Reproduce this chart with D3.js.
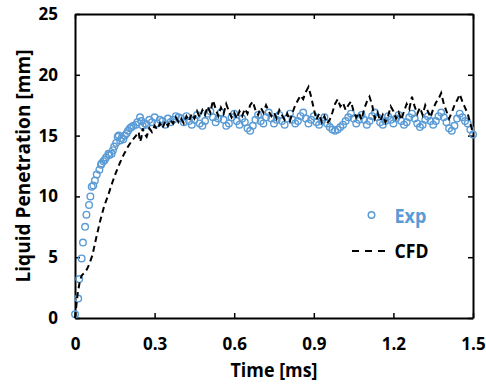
<!DOCTYPE html>
<html>
<head>
<meta charset="utf-8">
<script src="https://cdn.jsdelivr.net/npm/d3@7"></script>
<style>
    body { margin: 0; background: #fff; }
    svg text { font-family: "Open Sans", "DejaVu Sans", sans-serif; font-weight: bold; }
</style>
</head>
<body>
<div id="chart"></div>
<script>
// x ticks [ms] and y ticks [mm]
var xTicks = [0, 0.3, 0.6, 0.9, 1.2, 1.5];
var yTicks = [0, 5, 10, 15, 20, 25];

// Exp - measured liquid penetration (rise part, read point by point)
var expRiseTime = [0, 0.012, 0.016, 0.025, 0.030, 0.038, 0.043, 0.053, 0.058, 0.063, 0.069, 0.075,
                   0.082, 0.092, 0.098, 0.100, 0.107, 0.112, 0.117, 0.126, 0.130, 0.138, 0.143, 0.148,
                   0.155, 0.161, 0.165, 0.170, 0.176, 0.182, 0.188, 0.195, 0.200, 0.207, 0.213, 0.220,
                   0.230, 0.235, 0.245, 0.250, 0.255, 0.264, 0.270, 0.280, 0.290, 0.300, 0.310, 0.320,
                   0.330, 0.340, 0.350, 0.360, 0.370, 0.380, 0.390];
var expRiseLen = [0.3, 1.6, 3.2, 4.9, 6.2, 7.5, 8.5, 9.3, 10.0, 10.8, 10.9, 11.3,
                  11.8, 12.2, 12.6, 12.7, 12.9, 13.0, 13.2, 13.5, 13.4, 13.5, 13.8, 14.1,
                  14.4, 14.9, 15.0, 14.6, 14.8, 14.7, 15.0, 15.2, 15.4, 15.6, 15.7, 15.8,
                  15.9, 16.1, 16.5, 16.2, 15.8, 16.0, 15.9, 16.3, 16.1, 16.5, 16.0, 16.3,
                  16.2, 15.9, 16.4, 16.1, 16.3, 16.6, 16.5];

// Exp - plateau, one point every 0.01 ms from 0.40 to 1.50 ms
var expPlateauStart = 0.40;
var expPlateauStep = 0.01;
var expPlateauLen = [16.4, 16.1, 16.6, 16.2, 15.9, 16.3, 16.7, 16.0, 15.8, 16.2,
                     16.8, 17.0, 16.5, 16.1, 16.4, 16.9, 16.3, 15.8, 16.0, 16.5,
                     16.8, 16.2, 15.9, 16.4, 16.1, 15.6, 15.4, 15.8, 16.3, 16.7,
                     16.2, 16.0, 16.5, 16.9, 16.4, 16.0, 16.3, 16.7, 16.2, 15.9,
                     16.4, 16.8, 16.3, 16.0, 16.2, 16.6, 16.9, 16.4, 16.0, 16.3,
                     16.6, 16.1, 15.9, 16.2, 16.5, 16.0, 15.7, 15.5, 15.4, 15.5,
                     15.7, 15.9, 16.2, 16.5, 16.8, 16.4, 16.0, 16.3, 16.7, 16.3,
                     15.9, 16.2, 16.6, 16.9, 16.5, 16.1, 15.9, 16.2, 16.6, 16.3,
                     16.0, 16.4, 16.7, 16.2, 15.9, 16.1, 16.5, 16.8, 16.4, 16.0,
                     15.7, 15.9, 16.3, 16.6, 16.2, 15.9, 16.2, 16.6, 16.9, 16.5,
                     16.1, 15.6, 15.4, 15.8, 16.4, 16.8, 16.5, 16.2, 16.0, 15.5,
                     15.1];

// CFD - rise part
var cfdRiseTime = [0, 0.005, 0.010, 0.018, 0.025, 0.035, 0.045, 0.055, 0.066, 0.080, 0.095, 0.110,
                   0.125, 0.140, 0.155, 0.170, 0.185, 0.200, 0.215, 0.230, 0.240, 0.245, 0.250, 0.255];
var cfdRiseLen = [0, 1.0, 2.0, 3.0, 3.5, 3.7, 4.0, 4.5, 5.2, 6.6, 8.0, 9.2,
                  10.1, 11.1, 12.0, 12.8, 13.5, 14.1, 14.6, 15.0, 15.3, 14.5, 14.8, 15.6];

// CFD - quasi steady part, every 0.01 ms from 0.26 to 1.50 ms
var cfdSteadyStart = 0.26;
var cfdSteadyStep = 0.01;
var cfdSteadyLen = [15.2, 14.9, 15.6, 15.3, 15.8, 15.5, 16.0, 15.6, 16.2, 15.8,
                    16.3, 16.0, 16.5, 16.1, 16.4, 16.0, 16.6, 16.2, 16.8, 16.4,
                    17.0, 16.5, 17.1, 16.7, 17.4, 16.9, 17.9, 17.2, 16.6, 17.3,
                    16.8, 17.6, 17.0, 16.5, 16.9, 16.4, 17.0, 16.6, 17.2, 16.8,
                    17.5, 17.8, 17.1, 16.7, 17.3, 16.9, 17.5, 17.0, 16.6, 16.9,
                    16.4, 17.1, 16.7, 16.3, 16.8, 16.2, 16.9, 17.5, 17.9, 18.3,
                    18.0, 18.6, 19.0, 18.2, 17.2, 16.3, 16.8, 16.1, 16.6, 16.0,
                    16.3, 16.9, 17.6, 18.0, 17.4, 17.7, 17.1, 17.5, 17.8, 17.0,
                    16.5, 16.9, 16.3, 17.2, 17.8, 18.2, 17.5, 16.4, 16.9, 16.2,
                    16.7, 16.1, 16.6, 17.4, 17.0, 16.4, 16.9, 16.3, 17.0, 17.6,
                    17.2, 18.2, 17.4, 16.8, 17.3, 16.7, 17.5, 17.0, 16.5, 17.2,
                    17.7, 18.0, 18.5, 17.6, 17.0, 16.4, 16.9, 17.5, 17.9, 18.4,
                    17.8, 17.3, 16.8, 16.0, 15.2];

var expColor = "#5b9bd5";

function buildSeries(riseTime, riseLen, start, step, steadyLen) {
    var pts = [];
    for (var i = 0; i < riseTime.length; i++) {
        pts.push({t: riseTime[i], v: riseLen[i]});
    }
    for (var j = 0; j < steadyLen.length; j++) {
        pts.push({t: +(start + j * step).toFixed(3), v: steadyLen[j]});
    }
    return pts;
}

var expData = buildSeries(expRiseTime, expRiseLen, expPlateauStart, expPlateauStep, expPlateauLen);
var cfdData = buildSeries(cfdRiseTime, cfdRiseLen, cfdSteadyStart, cfdSteadyStep, cfdSteadyLen);

var W = 486, H = 390;
var margin = {top: 14, right: 13, bottom: 72, left: 75},
    width = W - margin.left - margin.right,
    height = H - margin.top - margin.bottom;

var svg = d3.select("#chart")
            .append("svg")
                .attr("width", W)
                .attr("height", H)
            .append("g")
                .attr("transform", "translate(" + margin.left + "," + margin.top + ")");

var x = d3.scaleLinear().domain([0, 1.5]).range([0, width]);
var y = d3.scaleLinear().domain([0, 25]).range([height, 0]);

// axes, ticks pointing inward on all four sides
var xAxis = svg.append("g")
    .attr("transform", "translate(0," + height + ")")
    .call(d3.axisBottom(x).tickValues(xTicks).tickSizeInner(-5).tickSizeOuter(0).tickPadding(20)
            .tickFormat(function(d) { return d === 0 ? "0" : d3.format(".1f")(d); }));
var yAxis = svg.append("g")
    .call(d3.axisLeft(y).tickValues(yTicks).tickSizeInner(-5).tickSizeOuter(0).tickPadding(17));
var topAxis = svg.append("g")
    .call(d3.axisTop(x).tickValues(xTicks).tickSizeInner(-5).tickSizeOuter(0).tickFormat(""));
var rightAxis = svg.append("g")
    .attr("transform", "translate(" + width + ",0)")
    .call(d3.axisRight(y).tickValues(yTicks).tickSizeInner(-5).tickSizeOuter(0).tickFormat(""));

[xAxis, yAxis, topAxis, rightAxis].forEach(function(a) {
    a.select(".domain").attr("stroke", "#000").attr("stroke-width", 2);
    a.selectAll(".tick line").attr("stroke", "#000").attr("stroke-width", 1.5);
    a.selectAll(".tick text")
        .attr("fill", "#000")
        .style("font-size", "17px")
        .style("font-family", "'Open Sans', sans-serif")
        .style("font-weight", "bold");
});

// Exp circles
svg.append("g")
    .selectAll("circle")
    .data(expData)
    .enter()
    .append("circle")
        .attr("cx", function(d) { return x(d.t); })
        .attr("cy", function(d) { return y(d.v); })
        .attr("r", 3.3)
        .attr("fill", "none")
        .attr("stroke", expColor)
        .attr("stroke-width", 1.4);

// CFD dashed line
var line = d3.line()
    .x(function(d) { return x(d.t); })
    .y(function(d) { return y(d.v); });

svg.append("path")
    .datum(cfdData)
    .attr("d", line)
    .attr("fill", "none")
    .attr("stroke", "#000")
    .attr("stroke-width", 2)
    .attr("stroke-dasharray", "6,4");

// axis titles
svg.append("text")
    .attr("x", width / 2)
    .attr("y", 363)
    .attr("text-anchor", "middle")
    .attr("textLength", 87)
    .attr("lengthAdjust", "spacingAndGlyphs")
    .style("font-size", "19px")
    .text("Time [ms]");

svg.append("text")
    .attr("transform", "translate(-45," + (height / 2) + ") rotate(-90)")
    .attr("text-anchor", "middle")
    .attr("textLength", 233)
    .attr("lengthAdjust", "spacingAndGlyphs")
    .style("font-size", "19px")
    .text("Liquid Penetration [mm]");

// legend
var legend = svg.append("g").attr("transform", "translate(" + (371.5 - margin.left) + "," + (215 - margin.top) + ")");
legend.append("circle")
    .attr("cx", 0).attr("cy", 0).attr("r", 3.3)
    .attr("fill", "none").attr("stroke", expColor).attr("stroke-width", 1.4);
legend.append("text")
    .attr("x", 23).attr("y", 8)
    .attr("fill", expColor)
    .attr("textLength", 32)
    .attr("lengthAdjust", "spacingAndGlyphs")
    .style("font-size", "19px")
    .text("Exp");
legend.append("line")
    .attr("x1", -19.5).attr("x2", 18.5).attr("y1", 36).attr("y2", 36)
    .attr("stroke", "#000").attr("stroke-width", 2)
    .attr("stroke-dasharray", "7,6");
legend.append("text")
    .attr("x", 23).attr("y", 43)
    .attr("fill", "#000")
    .attr("textLength", 34)
    .attr("lengthAdjust", "spacingAndGlyphs")
    .style("font-size", "19px")
    .text("CFD");
</script>
</body>
</html>
